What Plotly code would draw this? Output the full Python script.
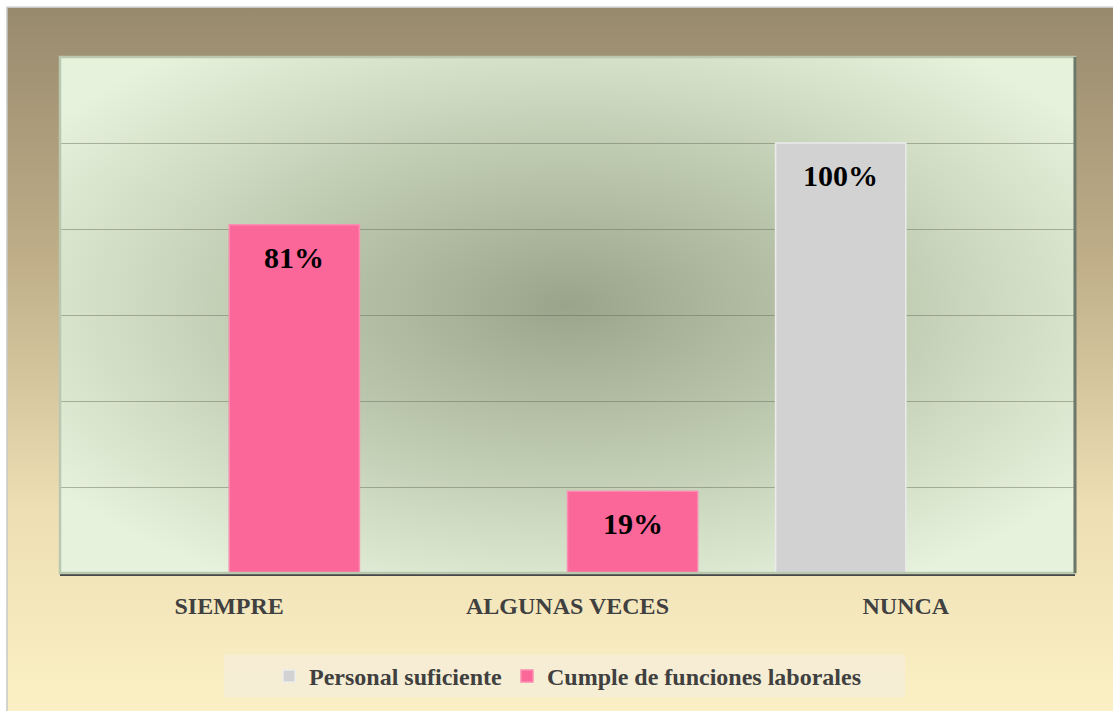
import base64
import plotly.graph_objects as go

categorias = ["SIEMPRE", "ALGUNAS VECES", "NUNCA"]
personal_suficiente = [None, None, 100]
cumple_funciones = [81, 19, None]
series_nombres = ["Personal suficiente", "Cumple de funciones laborales"]

W, H = 1113, 711
L, R, T, B = 60, 38, 57, 135
pw, ph = W - L - R, H - T - B
BARGAP = 0.23


def svg_uri(svg):
    return "data:image/svg+xml;base64," + base64.b64encode(svg.encode()).decode()


def px_x(x):
    return (x - L) / pw


def px_y(y):
    return (H - B - y) / ph


fondo_svg = (
    '<svg xmlns="http://www.w3.org/2000/svg" width="400" height="400" preserveAspectRatio="none">'
    '<defs><linearGradient id="g" x1="0" y1="0" x2="0" y2="1">'
    '<stop offset="0" stop-color="#988a6e"/><stop offset="0.35" stop-color="#bfae88"/>'
    '<stop offset="0.7" stop-color="#eedfb5"/><stop offset="1" stop-color="#fcf1c6"/>'
    '</linearGradient></defs><rect width="400" height="400" fill="url(#g)"/></svg>'
)
area_svg = (
    '<svg xmlns="http://www.w3.org/2000/svg" width="400" height="400" preserveAspectRatio="none">'
    '<defs><radialGradient id="r" cx="0.5" cy="0.48" r="0.62">'
    '<stop offset="0" stop-color="#9aa48a"/><stop offset="0.45" stop-color="#bcc8ad"/>'
    '<stop offset="1" stop-color="#e6f2dc"/>'
    '</radialGradient></defs><rect width="400" height="400" fill="url(#r)"/></svg>'
)

fig = go.Figure()

fig.add_trace(go.Bar(
    x=categorias, y=personal_suficiente, name=series_nombres[0],
    marker=dict(color="#d2d2d2", line=dict(color="#ebebeb", width=1.5)),
))
fig.add_trace(go.Bar(
    x=categorias, y=cumple_funciones, name=series_nombres[1],
    marker=dict(color="#fb6799", line=dict(color="#fc8db2", width=1.5)),
))

# etiquetas de datos dentro de la barra, cerca del borde superior
desplaz = (1 - BARGAP) * pw / 3 / 4
anotaciones = []
for serie, signo in ((personal_suficiente, -1), (cumple_funciones, 1)):
    for cat, v in zip(categorias, serie):
        if v is None:
            continue
        anotaciones.append(dict(
            x=cat, y=v, xref="x", yref="y", text=f"<b>{v}%</b>", showarrow=False,
            xshift=signo * desplaz, yshift=-14, yanchor="top",
            font=dict(family="Liberation Serif", size=30, color="black"),
        ))

fig.update_layout(
    width=W, height=H,
    margin=dict(l=L, r=R, t=T, b=B),
    paper_bgcolor="#fcf1c6",
    plot_bgcolor="rgba(0,0,0,0)",
    barmode="group", bargap=BARGAP, bargroupgap=0,
    font=dict(family="Liberation Serif", size=18, color="#404040"),
    xaxis=dict(
        showline=True, linecolor="#474747", linewidth=3,
        showgrid=False, ticks="", ticklabelstandoff=9,
        tickfont=dict(family="Liberation Serif", size=24, color="#404040", weight="bold"),
    ),
    yaxis=dict(
        range=[0, 120], dtick=20, showticklabels=False,
        showgrid=True, gridcolor="rgba(95,105,85,0.45)", gridwidth=1,
        zeroline=False, showline=False,
    ),
    legend=dict(
        orientation="h", x=0.5, xanchor="center", y=px_y(680), yanchor="middle",
        bgcolor="rgba(0,0,0,0)", borderwidth=0,
        font=dict(family="Liberation Serif", size=24, color="#404040", weight="bold"),
        itemwidth=30, traceorder="normal",
    ),
    annotations=anotaciones,
    images=[
        dict(source=svg_uri(fondo_svg), xref="paper", yref="paper",
             x=px_x(7), y=px_y(7), sizex=(W + 20 - 7) / pw, sizey=(H + 20 - 7) / ph,
             xanchor="left", yanchor="top", sizing="stretch", layer="below"),
        dict(source=svg_uri(area_svg), xref="paper", yref="paper",
             x=0, y=1, sizex=1, sizey=1,
             xanchor="left", yanchor="top", sizing="stretch", layer="below"),
    ],
    shapes=[
        # margen blanco superior e izquierdo del marco
        dict(type="rect", xref="paper", yref="paper", x0=px_x(-5), x1=px_x(W + 5),
             y0=px_y(7), y1=px_y(-5), fillcolor="white", line=dict(width=0), layer="below"),
        dict(type="rect", xref="paper", yref="paper", x0=px_x(-5), x1=px_x(7),
             y0=px_y(H + 5), y1=px_y(-5), fillcolor="white", line=dict(width=0), layer="below"),
        dict(type="rect", xref="paper", yref="paper", x0=px_x(7), x1=px_x(W + 5),
             y0=px_y(H + 5), y1=px_y(7), line=dict(color="#c8c8c8", width=1.5),
             layer="below"),
        # caja de la leyenda
        dict(type="rect", xref="paper", yref="paper", x0=px_x(224), x1=px_x(905),
             y0=px_y(701), y1=px_y(658), fillcolor="rgba(245,237,214,0.9)",
             line=dict(width=0), layer="below"),
        dict(type="rect", xref="paper", yref="paper", x0=0, x1=1, y0=0, y1=1,
             line=dict(color="#b9c8ae", width=2.5), layer="above"),
        dict(type="line", xref="paper", yref="paper", x0=1, x1=1, y0=0, y1=1,
             line=dict(color="#6e7868", width=3), layer="above"),
    ],
)

fig.write_html("out.html", config={"displayModeBar": False},
               post_script="document.body.style.margin='0';")
